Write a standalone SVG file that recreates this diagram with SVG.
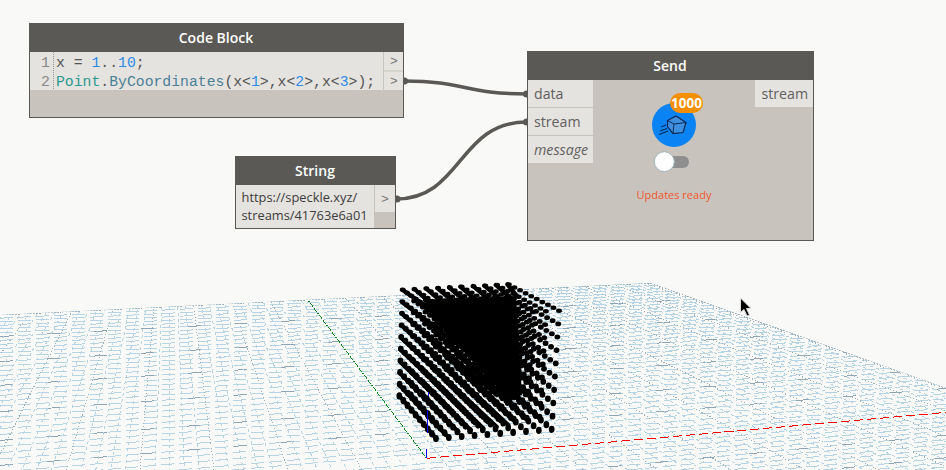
<svg xmlns="http://www.w3.org/2000/svg" width="946" height="470" viewBox="0 0 946 470">
<style>
.hd{fill:#5b5956}
.bd{fill:#c8c4bd;stroke:#5b5956;stroke-width:1}
.pt{fill:#e5e3df}
.ti{font:600 14px "Open Sans","Liberation Sans",sans-serif;fill:#fff;text-anchor:middle}
.lb{font:14.2px "Open Sans","Liberation Sans",sans-serif;fill:#5f5f5f}
.st{font:12.85px "Open Sans","Liberation Sans",sans-serif;fill:#3c3c3c}
.ar{font:13px "Liberation Mono",monospace;fill:#777;text-anchor:middle}
.cd{font:14.77px "Liberation Mono","DejaVu Sans Mono",monospace;fill:#555}
.n{fill:#2b8ae6}.c{fill:#2a9a8e}.m{fill:#4a7f96}
.w{fill:none;stroke:#5b5956;stroke-width:3.5}
.e{fill:#5b5956}
.d{fill:none;stroke:#000;stroke-width:5.8;stroke-linecap:round;stroke-dasharray:0 .9999}
.b{fill:none;stroke:#000;stroke-width:4.2;stroke-linecap:round}
.g{fill:none;shape-rendering:crispEdges;stroke-width:1}
</style>
<defs>
<clipPath id="pl"><polygon points="0,315 651,283 946,388 946,470 0,470"/></clipPath>
<g id="L">
<path class="d" pathLength="9" d="M401 342.85L438.5 377.5"/>
<path class="d" pathLength="9" d="M412.68 342.09L451.48 376.67"/>
<path class="d" pathLength="9" d="M424.37 341.33L464.47 375.83"/>
<path class="d" pathLength="9" d="M436.05 340.57L477.45 375"/>
<path class="d" pathLength="9" d="M447.73 339.81L490.43 374.17"/>
<path class="d" pathLength="9" d="M459.42 339.04L503.42 373.33"/>
<path class="d" pathLength="9" d="M471.1 338.28L516.4 372.5"/>
<path class="d" pathLength="9" d="M482.78 337.52L529.38 371.67"/>
<path class="d" pathLength="9" d="M494.47 336.76L542.37 370.83"/>
<path class="d" pathLength="9" d="M506.15 336L555.35 370"/>
</g>
</defs>
<rect width="946" height="470" fill="#f9f9f7"/>
<g id="grid" clip-path="url(#pl)">
<path class="g" stroke="#b6d4e4" stroke-dasharray="13 5" d="M0 314.8L946 268.6M0 318.2L946 271.3M0 321.7L946 274.1M0 325.4L946 277M0 329L946 279.8M0 332.7L946 282.8M0 336.5L946 285.8M0 340.4L946 288.9M0 344.4L946 292.1M0 348.6L946 295.4M0 352.8L946 298.8M0 357.1L946 302.2M0 361.6L946 305.8M0 366.1L946 309.4M0 370.7L946 313M0 375.5L946 316.8M0 380.3L946 320.7M0 385.3L946 324.6M0 390.3L946 328.7M0 395.5L946 332.8M0 400.7L946 337M0 406.1L946 341.2M0 411.6L946 345.6M0 417.1L946 350M0 422.8L946 354.5M0 428.6L946 359.1M0 434.5L946 363.8M0 440.4L946 368.5M0 446.5L946 373.4M0 452.7L946 378.3M0 459L946 383.3M0 465.4L946 388.4M0 471.9L946 393.6M0 478.5L946 398.8M0 485.2L946 404.2M0 490.1L946 408.1M0 501.5L946 417.1M0 507.1L946 421.7M0 512.8L946 426.2M0 518.5L946 430.7M0 524.2L946 435.2M0 529.8L946 439.7M0 535.5L946 444.2M0 541.2L946 448.7M0 546.8L946 453.2M0 552.5L946 457.8M0 558.2L946 462.3M0 563.9L946 466.8M0 569.5L946 471.3"/>
<path class="g" stroke="#8fa5b3" stroke-dasharray="13 34" d="M0 336.5L946 285.8M0 361.6L946 305.8M0 385.3L946 324.6M0 411.6L946 345.6M0 440.4L946 368.5M0 465.4L946 388.4M0 524.2L946 435.2M0 552.5L946 457.8"/>
<path class="g" stroke="#b6d4e4" stroke-dasharray="3 3" d="M170 115L-134.4 480M170 115L-119.2 480M170 115L-104 480M170 115L-73.6 480M170 115L-58.4 480M170 115L-43.2 480M170 115L-28 480M170 115L2.4 480M170 115L17.6 480M170 115L32.8 480M170 115L48 480M170 115L78.4 480M170 115L93.6 480M170 115L108.8 480M170 115L124 480M170 115L154.4 480M170 115L169.6 480M170 115L184.8 480M170 115L200 480M170 115L230.4 480M170 115L245.6 480M170 115L260.8 480M170 115L276 480M170 115L306.4 480M170 115L321.6 480M170 115L336.8 480M170 115L352 480M170 115L382.4 480M170 115L397.6 480M170 115L412.8 480M170 115L428 480M170 115L458.4 480M170 115L473.6 480M170 115L488.8 480M170 115L504 480M170 115L534.4 480M170 115L549.6 480M170 115L564.8 480M170 115L580 480M170 115L610.4 480M170 115L625.6 480M170 115L640.8 480M170 115L656 480M170 115L686.4 480M170 115L701.6 480M170 115L716.8 480M170 115L732 480M170 115L762.4 480M170 115L777.6 480M170 115L792.8 480M170 115L808 480M170 115L838.4 480M170 115L853.6 480M170 115L868.8 480M170 115L884 480M170 115L914.4 480M170 115L929.6 480M170 115L944.8 480M170 115L960 480M170 115L990.4 480M170 115L1005.6 480M170 115L1020.8 480M170 115L1036 480M170 115L1066.4 480M170 115L1081.6 480M170 115L1096.8 480M170 115L1112 480M170 115L1142.4 480M170 115L1157.6 480M170 115L1172.8 480M170 115L1188 480"/>
<path class="g" stroke="#9fb3bf" stroke-dasharray="1 2" d="M170 115L-88.8 480M170 115L-12.8 480M170 115L63.2 480M170 115L139.2 480M170 115L215.2 480M170 115L291.2 480M170 115L367.2 480M170 115L519.2 480M170 115L595.2 480M170 115L671.2 480M170 115L747.2 480M170 115L823.2 480M170 115L899.2 480M170 115L975.2 480M170 115L1051.2 480M170 115L1127.2 480M170 115L1203.2 480"/>
<path class="g" stroke="#8fa5b3" stroke-dasharray="2 1" d="M0 315L651 283L946 388"/>
<path class="g" stroke="#0f8a1f" stroke-dasharray="2 1" d="M426.7 458.3L308 300"/>
<path class="g" stroke="#f00" stroke-width="1.5" stroke-dasharray="9 4" d="M426.7 458.3L946 412.4"/>
<path class="g" stroke="#00f" d="M426.7 458.3V449"/>
</g>
<g id="points">
<polygon points="425,300 516,296 522,395 510,400 478,368 447,332 430,316" fill="#000"/>
<use href="#L" transform="matrix(1.0106 0 .0116 .7699 -6.53 25.8)"/>
<use href="#L" transform="matrix(1.0082 0 .0091 .821 -5.08 20.07)"/>
<use href="#L" transform="matrix(1.0059 0 .0065 .8721 -3.63 14.33)"/>
<use href="#L" transform="matrix(1.0035 0 .0039 .9233 -2.18 8.6)"/>
<use href="#L" transform="matrix(1.0012 0 .0013 .9744 -.73 2.87)"/>
<use href="#L" transform="matrix(.9988 0 -.0013 1.0256 .73 -2.87)"/>
<use href="#L" transform="matrix(.9965 0 -.0039 1.0767 2.18 -8.6)"/>
<use href="#L" transform="matrix(.9941 0 -.0065 1.1279 3.63 -14.33)"/>
<use href="#L" transform="matrix(.9918 0 -.0091 1.179 5.08 -20.07)"/>
<use href="#L" transform="matrix(.9894 0 -.0116 1.2301 6.53 -25.8)"/>
<path class="b" d="M402.7 290L463 331.7M402.3 302.3L480 361.7M402.7 314.3L496.7 395M402 325.7L508.3 425M401 337.7L496.7 426.7M400.7 350L483.3 428.3M400 361.7L470.7 430M400 373.3L458.3 431.7M399.3 385L446 435M399.3 395.700L436 438.3M414.3 289l14 12M426.3 288.7l14 12M437.7 288.3l14 12M449 287.3l14 12M460.3 286.7l14 12M473 286l14 12M484.3 285.7l14 12M495.7 285l14 12M507.3 284.3l10 12"/>
<path class="g" stroke="#00f" d="M427.6 410V433M428 392V396"/>
</g>
<g id="cursor"><path d="M740.5 298V312.5L744 309.5L747 316L749.5 315L746.5 308.5H751Z" fill="#000" stroke="#ddd" stroke-width="1"/></g>
<g id="connectors">
<path class="w" d="M404 81C465 81 465 94 527 94"/>
<path class="w" d="M396 199C462 199 458 122 527 122"/>
<circle class="e" cx="404.5" cy="81" r="3.5"/>
<circle class="e" cx="397" cy="199" r="3.5"/>
<circle class="e" cx="526.5" cy="94" r="3.5"/>
<circle class="e" cx="526.5" cy="122" r="3.5"/>
</g>
<g id="code-block">
<rect class="bd" x="29.5" y="23.5" width="374" height="94"/>
<rect class="hd" x="29" y="23" width="375" height="29"/>
<text class="ti" x="216" y="42.5">Code Block</text>
<rect class="pt" x="30" y="52" width="353" height="38"/>
<rect class="pt" x="384" y="52" width="19" height="18.5"/>
<rect class="pt" x="384" y="71.5" width="19" height="18.5"/>
<path d="M53.5 52V90" stroke="#999" stroke-dasharray="1 1" fill="none"/>
<text class="cd" x="41" y="66.5" style="fill:#888">1</text>
<text class="cd" x="41" y="86" style="fill:#888">2</text>
<text class="cd" x="56" y="66.5">x = <tspan class="n">1</tspan>..<tspan class="n">10</tspan>;</text>
<text class="cd" x="56" y="86"><tspan class="c">Point</tspan>.<tspan class="m">ByCoordinates</tspan>(x&lt;<tspan class="n">1</tspan>&gt;,x&lt;<tspan class="n">2</tspan>&gt;,x&lt;<tspan class="n">3</tspan>&gt;);</text>
<text class="ar" x="394" y="65">&gt;</text>
<text class="ar" x="394" y="85">&gt;</text>
</g>
<g id="string">
<rect class="bd" x="235.5" y="156.5" width="160" height="72"/>
<rect class="hd" x="235" y="156" width="161" height="29"/>
<text class="ti" x="315" y="176">String</text>
<rect class="pt" x="236" y="185" width="138" height="43"/>
<rect class="pt" x="375" y="185" width="20" height="27"/>
<text class="st" x="241.5" y="202">https://speckle.xyz/</text>
<text class="st" x="241.5" y="219.5">streams/41763e6a01</text>
<text class="ar" x="385" y="203">&gt;</text>
</g>
<g id="send">
<rect class="bd" x="527.5" y="51.5" width="286" height="189"/>
<rect class="hd" x="527" y="51" width="287" height="29"/>
<text class="ti" x="670" y="70.5">Send</text>
<rect class="pt" x="528" y="80" width="65" height="27"/>
<rect class="pt" x="528" y="108" width="65" height="27"/>
<rect class="pt" x="528" y="136" width="65" height="27"/>
<rect class="pt" x="755" y="80" width="58" height="27"/>
<text class="lb" x="534" y="99">data</text>
<text class="lb" x="534" y="127">stream</text>
<text class="lb" x="534" y="155" style="font-style:italic">message</text>
<text class="lb" x="761.5" y="99">stream</text>
<circle cx="674" cy="125" r="22" fill="#0a84f5"/>
<path d="M667.5 120.5L676 116L686 122.5L683 132.5L673 133.5L667.5 126.5Z" fill="#3f8fe0" stroke="#0a2a55" stroke-width="1.2"/>
<path d="M667.5 120.5L674 124L686 122.5M674 124L673 133.5" fill="none" stroke="#0a2a55" stroke-width="1"/>
<path d="M661 127L666 125M660 131L667 128.5M659 134.500L668 131" fill="none" stroke="#0a2a55" stroke-width="1.1"/>
<rect x="670" y="93" width="33" height="20" rx="10" fill="#f58f00"/>
<text x="686.5" y="108" text-anchor="middle" style="font:700 13.5px 'Open Sans','Liberation Sans',sans-serif;fill:#fff">1000</text>
<rect x="655" y="156" width="34" height="12" rx="6" fill="#8f8f8f"/>
<circle cx="664.300" cy="161.700" r="10" fill="#fff" stroke="#9fb5b8" stroke-width="1"/>
<text x="674" y="199" text-anchor="middle" style="font:11px 'Open Sans','Liberation Sans',sans-serif;fill:#f4552c">Updates ready</text>
</g>
</svg>
